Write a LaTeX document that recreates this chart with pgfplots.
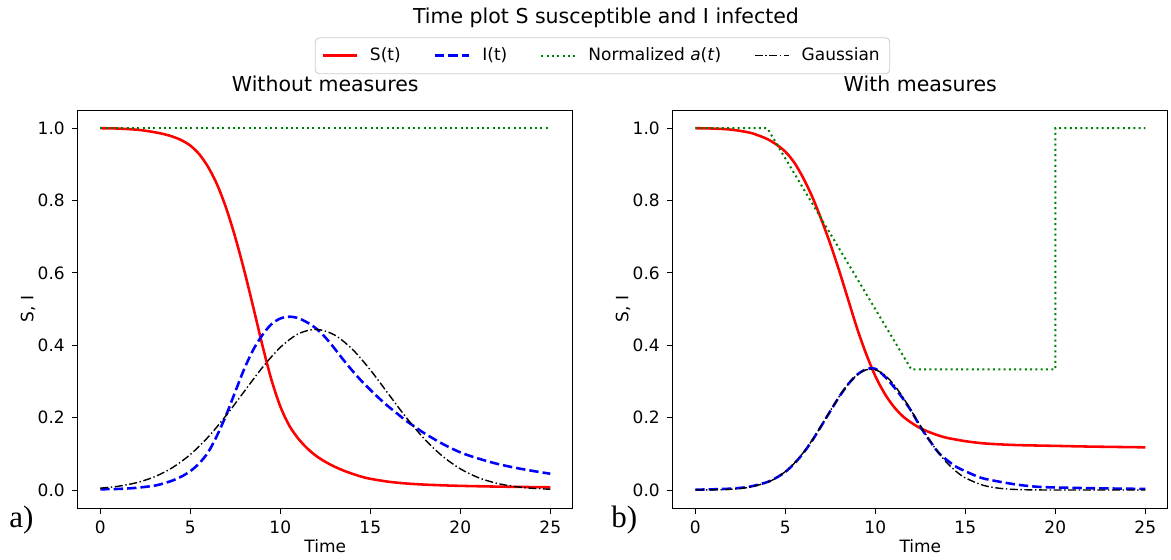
\documentclass[border=0pt]{standalone}
\usepackage{fontspec}
\setmainfont{DejaVu Sans}
\newfontfamily\seriffont{Liberation Serif}
\usepackage{pgfplots}
\usepackage{pgfplotstable}
\pgfplotsset{compat=1.18}
\definecolor{mplgreen}{rgb}{0,0.5,0}

\pgfplotstableread{
t v
0 1.000
1 0.999
2 0.996
2.5 0.993
3 0.989
3.5 0.984
4 0.977
4.5 0.967
5 0.952
5.5 0.928
6 0.892
6.5 0.843
7 0.778
7.5 0.698
8 0.606
8.5 0.505
9 0.401
9.5 0.306
10 0.231
10.5 0.178
11 0.142
11.5 0.115
12 0.094
12.5 0.078
13 0.065
13.5 0.054
14 0.045
14.5 0.037
15 0.031
16 0.023
17 0.018
18 0.015
19 0.013
20 0.0115
22 0.0095
25 0.0075
}\SleftTable

\pgfplotstableread{
t v
0 0.002
1 0.003
2 0.006
3 0.012
3.5 0.018
4 0.026
4.5 0.037
5 0.052
5.5 0.074
6 0.105
6.5 0.152
7 0.208
7.5 0.272
8 0.335
8.5 0.388
9 0.428
9.5 0.458
10 0.474
10.5 0.479
11 0.475
11.5 0.463
12 0.446
12.5 0.422
13 0.392
13.5 0.360
14 0.330
14.5 0.302
15 0.277
15.5 0.253
16 0.231
16.5 0.211
17 0.191
17.5 0.174
18 0.157
19 0.128
20 0.104
21 0.087
22 0.073
23 0.062
24 0.053
25 0.045
}\IleftTable

\pgfplotstableread{
t v
0 0.0051
1 0.0105
2 0.0201
3 0.0363
4 0.0616
5 0.0981
6 0.1469
7 0.2065
8 0.2727
9 0.3383
10 0.3943
11 0.4317
12 0.4440
13 0.4289
14 0.3893
15 0.3320
16 0.2660
17 0.2001
18 0.1415
19 0.0940
20 0.0586
21 0.0343
22 0.0189
23 0.0098
24 0.0047
25 0.0022
}\GleftTable

\pgfplotstableread{
t v
0 1
25 1
}\AleftTable

\pgfplotstableread{
t v
0 1.000
1 0.999
2 0.996
3 0.988
3.5 0.980
4 0.970
4.5 0.955
5 0.935
5.5 0.905
6 0.862
6.5 0.810
7 0.748
7.5 0.680
8 0.605
8.5 0.525
9 0.445
9.5 0.375
10 0.315
10.5 0.268
11 0.232
11.5 0.205
12 0.186
12.5 0.171
13 0.160
13.5 0.151
14 0.144
15 0.135
16 0.129
17 0.126
18 0.124
20 0.122
22 0.120
25 0.118
}\SrightTable

\pgfplotstableread{
t v
0 0.001
1 0.002
2 0.004
3 0.009
4 0.022
4.5 0.034
5 0.050
5.5 0.073
6 0.102
6.5 0.137
7 0.177
7.5 0.218
8 0.258
8.5 0.293
9 0.319
9.5 0.334
10 0.335
10.5 0.315
11 0.287
11.5 0.255
12 0.218
12.5 0.175
13 0.138
13.5 0.104
14 0.082
14.5 0.064
15 0.052
15.5 0.041
16 0.032
17 0.022
18 0.014
19 0.009
20 0.007
22 0.005
25 0.003
}\IrightTable

\pgfplotstableread{
t v
0 0.0001
1 0.0006
2 0.0022
3 0.0075
4 0.0212
4.5 0.0336
5 0.0510
5.5 0.0741
6 0.1035
6.5 0.1385
7 0.1779
7.5 0.2190
8 0.2588
8.5 0.2932
9 0.3187
9.5 0.3323
10 0.3323
10.5 0.3187
11 0.2932
11.5 0.2588
12 0.2190
12.5 0.1779
13 0.1385
13.5 0.1035
14 0.0741
14.5 0.0510
15 0.0336
16 0.0129
17 0.0042
18 0.0011
19 0.0003
20 0.0001
25 0.0000
}\GrightTable

\pgfplotstableread{
t v
0 1
4 1
12 0.3333
20 0.3333
20 1
25 1
}\ArightTable

\pgfplotsset{
  myaxis/.style={
    scale only axis, width=247.5pt, height=199pt,
    xmin=-1.25, xmax=26.25, ymin=-0.05, ymax=1.05,
    xtick={0,5,...,25}, ytick={0,0.2,0.4,0.6,0.8,1.0},
    yticklabel style={/pgf/number format/.cd, fixed, fixed zerofill, precision=1},
    /pgf/number format/assume math mode=true,
    tick label style={font=\fontsize{8.5}{10}\selectfont},
    title style={font=\fontsize{10.25}{12}\selectfont, at={(axis description cs:0.5,1)}, anchor=base, yshift=3.35pt},
    tick align=outside, major tick length=3pt, tick pos=left,
    axis line style={line width=0.6pt},
    every tick/.style={black, line width=0.5pt},
    xlabel=Time, ylabel={S, I},
    every axis x label/.style={at={(axis description cs:0.5,0)}, anchor=base, yshift=-21.95pt, font=\fontsize{8.5}{10}\selectfont},
    every axis y label/.style={at={(axis description cs:-0.1006,0.5)}, anchor=center, rotate=90, font=\fontsize{8.5}{10}\selectfont},
  },
  sline/.style={red, line width=1.28pt},
  iline/.style={blue, line width=1.28pt, dash pattern=on 4.7pt off 2pt},
  aline/.style={mplgreen, line width=1pt, dash pattern=on 1pt off 1.65pt},
  gline/.style={black, line width=0.7pt, dash pattern=on 4pt off 1.3pt on 0.7pt off 1.3pt},
}

\begin{document}
\begin{tikzpicture}
\useasboundingbox (-38.9pt,-25.45pt) rectangle (546.6pt,254.05pt);
\begin{axis}[myaxis, at={(0pt,0pt)}, anchor=south west,
  title={Without measures},
  legend columns=4,
  legend style={at={(axis description cs:1.06,1.1365)}, anchor=center,
    draw=white!80!black, rounded corners=2pt, fill=white,
    font=\fontsize{8.5}{10}\selectfont, inner xsep=3pt, inner ysep=3pt,
    /tikz/every odd column/.append style={column sep=4pt},
    /tikz/every even column/.append style={column sep=14.5pt}},
]
\addplot[sline, smooth] table[x=t,y=v] {\SleftTable};
\addlegendentry{S(t)}
\addplot[iline, smooth] table[x=t,y=v] {\IleftTable};
\addlegendentry{I(t)}
\addplot[aline] table[x=t,y=v] {\AleftTable};
\addlegendentry{Normalized \textit{a}(\textit{t})}
\addplot[gline, smooth] table[x=t,y=v] {\GleftTable};
\addlegendentry{Gaussian}
\end{axis}
\begin{axis}[myaxis, at={(297.5pt,0pt)}, anchor=south west,
  title={With measures}]
\addplot[sline, smooth] table[x=t,y=v] {\SrightTable};
\addplot[iline, smooth] table[x=t,y=v] {\IrightTable};
\addplot[aline] table[x=t,y=v] {\ArightTable};
\addplot[gline, smooth] table[x=t,y=v] {\GrightTable};
\end{axis}
\node[anchor=base, font=\fontsize{10.25}{12}\selectfont] at (264.1pt,242.55pt) {Time plot S susceptible and I infected};
\node[anchor=base west, inner sep=0pt, font=\seriffont\fontsize{15.5}{18}\selectfont] at (-34.4pt,-9.45pt) {a)};
\node[anchor=base west, inner sep=0pt, font=\seriffont\fontsize{15.5}{18}\selectfont] at (266.6pt,-9.45pt) {b)};
\end{tikzpicture}
\end{document}
